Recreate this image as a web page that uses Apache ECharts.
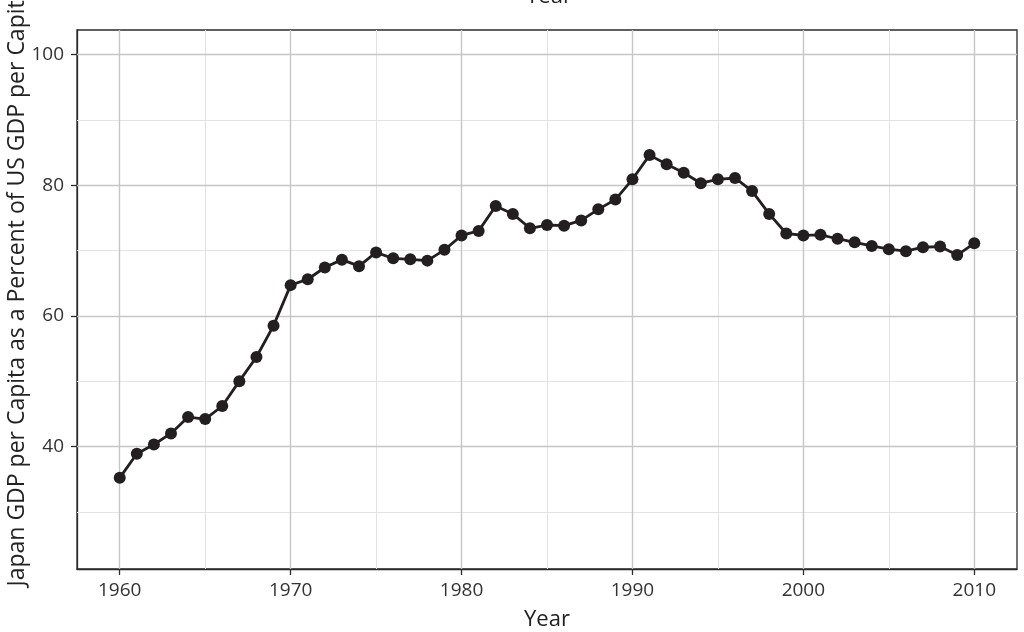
<!DOCTYPE html>
<html>
<head>
<meta charset="utf-8">
<script src="https://cdn.jsdelivr.net/npm/echarts@6/dist/echarts.min.js"></script>
<style>html,body{margin:0;padding:0;background:#fff}#c{width:1024px;height:632px}</style>
</head>
<body>
<div id="c"></div>
<script>
const years = [1960,1961,1962,1963,1964,1965,1966,1967,1968,1969,1970,1971,1972,1973,1974,1975,1976,1977,1978,1979,1980,1981,1982,1983,1984,1985,1986,1987,1988,1989,1990,1991,1992,1993,1994,1995,1996,1997,1998,1999,2000,2001,2002,2003,2004,2005,2006,2007,2008,2009,2010];
const ratio = [35.2,38.9,40.3,42.0,44.5,44.2,46.2,50.0,53.7,58.5,64.7,65.6,67.4,68.6,67.6,69.7,68.8,68.65,68.45,70.1,72.3,73.0,76.8,75.6,73.4,73.9,73.8,74.6,76.3,77.8,80.9,84.6,83.2,81.9,80.3,80.9,81.1,79.1,75.6,72.6,72.3,72.4,71.8,71.25,70.7,70.2,69.9,70.5,70.6,69.3,71.1];
const xTicks = [1960,1970,1980,1990,2000,2010];
const xMinor = [1965,1975,1985,1995,2005];
const yTicks = [40,60,80,100];
const yMinor = [30,50,70,90];
const xLabel = 'Year';
const yLabel = 'Japan GDP per Capita as a Percent of US GDP per Capita';

const FONT = '"Open Sans", "DejaVu Sans", sans-serif';
const chart = echarts.init(document.getElementById('c'));
const gridLines = [];
xMinor.forEach(v => gridLines.push({xAxis: v, lineStyle: {color: '#e3e3e3', width: 1, type: 'solid'}}));
yMinor.forEach(v => gridLines.push({yAxis: v, lineStyle: {color: '#e3e3e3', width: 1, type: 'solid'}}));
xTicks.forEach(v => gridLines.push({xAxis: v, lineStyle: {color: '#c6c6c6', width: 1.4, type: 'solid'}}));
yTicks.forEach(v => gridLines.push({yAxis: v, lineStyle: {color: '#c6c6c6', width: 1.4, type: 'solid'}}));

chart.setOption({
  animation: false,
  backgroundColor: '#fff',
  grid: {left: 77, right: 7, top: 30, bottom: 63, show: true, borderColor: '#2b2b2b', borderWidth: 1.3, backgroundColor: '#fff'},
  xAxis: {
    type: 'value', min: 1957.5, max: 2012.5,
    axisLine: {show: true, onZero: false, lineStyle: {color: '#2b2b2b', width: 1.3}},
    axisTick: {show: true, length: 6, customValues: xTicks, lineStyle: {color: '#2b2b2b', width: 1.3}},
    axisLabel: {customValues: xTicks, margin: 12, fontSize: 19, color: '#333', fontFamily: FONT, formatter: v => String(v)},
    splitLine: {show: false}
  },
  yAxis: {
    type: 'value', min: 21.25, max: 103.75,
    axisLine: {show: true, onZero: false, lineStyle: {color: '#2b2b2b', width: 1.3}},
    axisTick: {show: true, length: 6, customValues: yTicks, lineStyle: {color: '#2b2b2b', width: 1.3}},
    axisLabel: {customValues: yTicks, margin: 13, fontSize: 19, color: '#333', fontFamily: FONT, formatter: v => String(v)},
    splitLine: {show: false}
  },
  graphic: [
    {type: 'text', id: 'xt', x: 547, y: 620, style: {text: xLabel, fontSize: 22, fontFamily: FONT, fill: '#222', align: 'center', verticalAlign: 'middle'}},
    {type: 'text', id: 'xt2', x: 549, y: -3, style: {text: xLabel, fontSize: 22, fontFamily: FONT, fill: '#222', align: 'center', verticalAlign: 'middle'}},
    {type: 'text', id: 'yt', x: 17, y: 287, rotation: Math.PI / 2, style: {text: yLabel, fontSize: 23, fontFamily: FONT, fill: '#222', align: 'center', verticalAlign: 'middle'}}
  ],
  series: [
    {type: 'line', data: [], z: 1, silent: true,
     markLine: {silent: true, z: 1, symbol: 'none', label: {show: false}, animation: false, data: gridLines}},
    {type: 'line', z: 3, data: years.map((y, i) => [y, ratio[i]]),
     symbol: 'circle', symbolSize: 12, showSymbol: true,
     lineStyle: {color: '#231f20', width: 2.8}, itemStyle: {color: '#231f20'}}
  ]
});
</script>
</body>
</html>
